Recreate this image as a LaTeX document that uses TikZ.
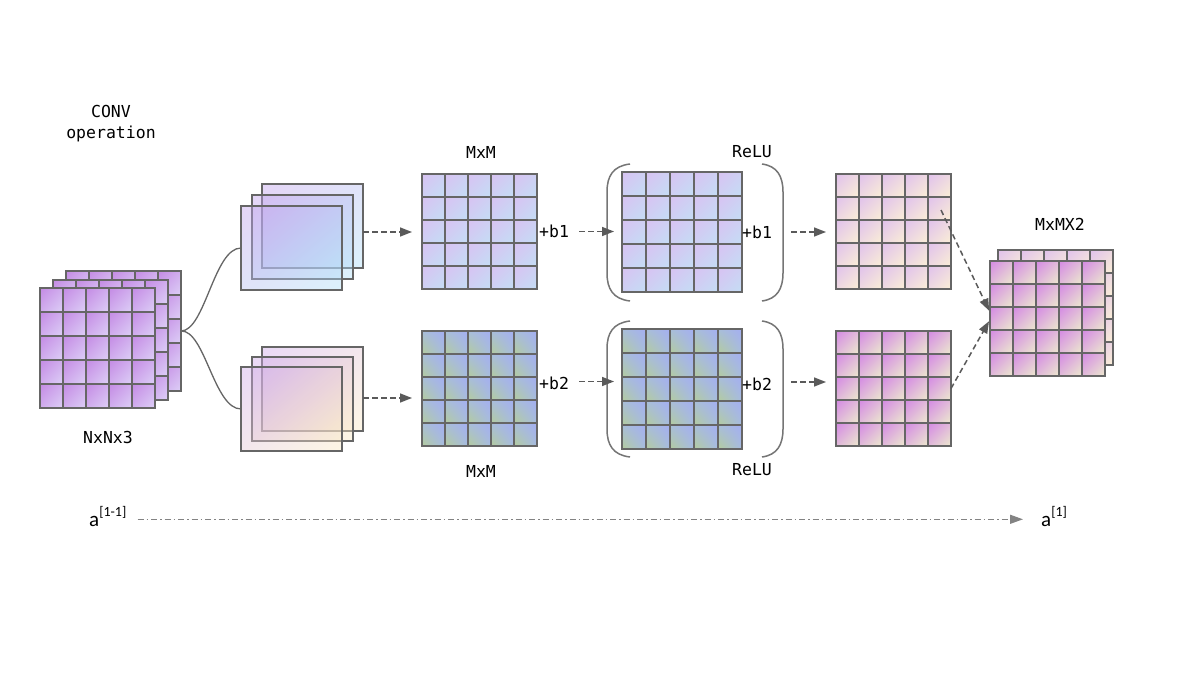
\documentclass[tikz,border=0pt]{standalone}
\usepackage{fontspec}
\setmainfont{DejaVu Sans Mono}
\newfontfamily\calib{Carlito}
\usetikzlibrary{arrows.meta,shadings}
\definecolor{gl}{HTML}{666666}
\definecolor{ar}{HTML}{5A5A5A}
\definecolor{inUL}{HTML}{C48AE4}
\definecolor{inLR}{HTML}{DDD0F7}
\definecolor{mUL}{HTML}{D8C2F2}
\definecolor{mLR}{HTML}{C4DEF5}
\definecolor{bUL}{HTML}{A8BEDA}
\definecolor{bUR}{HTML}{A4AEF2}
\definecolor{bLL}{HTML}{B4CC9C}
\definecolor{bLR}{HTML}{A6BCE2}
\definecolor{oaUL}{HTML}{E0C0EC}
\definecolor{oaLR}{HTML}{FBF0D6}
\definecolor{obUL}{HTML}{D488E4}
\definecolor{obLR}{HTML}{EDEBCE}
\definecolor{ftUL}{HTML}{C09CEC}
\definecolor{ftLR}{HTML}{ACE0F8}
\definecolor{fbUL}{HTML}{CCA4EA}
\definecolor{fbLR}{HTML}{FCEBC0}
\newcommand\cellgrid[8]{%
  \pgfmathsetmacro\cw{#3/5}\pgfmathsetmacro\ch{#4/5}%
  \foreach \i in {0,...,4}{\foreach \j in {0,...,4}{%
    \shade[upper left=#5,upper right=#6,lower left=#7,lower right=#8]
      ({#1+\i*\cw-0.2},{#2+\j*\ch-0.2}) rectangle ++({\cw+0.4},{\ch+0.4});}}%
  \foreach \k in {0,...,5}{%
    \draw[gridln] ({#1+\k*\cw},#2) -- ++(0,#4);
    \draw[gridln] (#1,{#2+\k*\ch}) -- ++(#3,0);}%
}
\newcommand\twograd[6]{% x y w h UL LR
  \cellgrid{#1}{#2}{#3}{#4}{#5}{#5!50!#6}{#5!50!#6}{#6}}
\newcommand\frmbox[6]{%
  \shade[upper left=#5,lower right=#6,upper right=#5!50!#6,lower left=#5!50!#6,fill opacity=0.42]
    (#1,#2) rectangle ++(#3,#4);
  \draw[frm] (#1,#2) rectangle ++(#3,#4);}
\tikzset{
  gridln/.style={draw=gl,line width=1.6pt,line cap=rect},
  frm/.style={draw=gl,line width=1.4pt},
  blk/.style={draw=none,inner sep=0pt,outer sep=0pt,anchor=north west},
  lbl/.style={font=\fontsize{16.5}{18}\selectfont,inner sep=0pt},
  dar/.style={draw=ar,line width=1.5pt,dash pattern=on 5.5pt off 3.5pt,-{Triangle[length=12pt,width=9pt]}},
  dda/.style={draw=ar!75,line width=1.3pt,dash pattern=on 6pt off 3pt on 1.5pt off 3pt,-{Triangle[length=13pt,width=9pt]}},
  curve/.style={draw=gl,line width=1.3pt},
  paren/.style={draw=gl!90,line width=1.5pt},
}
\begin{document}
\begin{tikzpicture}[x=1pt,y=-1pt]
\useasboundingbox[fill=white] (0,0) rectangle (1200,676);
% input stack
\twograd{66}{271}{115}{120}{inUL}{inLR}
\twograd{53}{280}{115}{120}{inUL}{inLR}
\twograd{40}{288}{115}{120}{inUL}{inLR}
\node[blk,minimum width=115pt,minimum height=120pt] (inb) at (66,271) {};
\node[blk,minimum width=115pt,minimum height=120pt] (inf) at (40,288) {};
% frame stacks
\frmbox{262}{184}{101}{84}{ftUL}{ftLR}
\frmbox{252}{195}{101}{84}{ftUL}{ftLR}
\frmbox{241}{206}{101}{84}{ftUL}{ftLR}
\node[blk,minimum width=101pt,minimum height=84pt] (fb1) at (262,184) {};
\node[blk,minimum width=101pt,minimum height=84pt] (ff1) at (241,206) {};
\frmbox{262}{347}{101}{84}{fbUL}{fbLR}
\frmbox{252}{357}{101}{84}{fbUL}{fbLR}
\frmbox{241}{367}{101}{84}{fbUL}{fbLR}
\node[blk,minimum width=101pt,minimum height=84pt] (fb2) at (262,347) {};
\node[blk,minimum width=101pt,minimum height=84pt] (ff2) at (241,367) {};
% MxM grids
\twograd{422}{174}{115}{115}{mUL}{mLR}
\node[blk,minimum width=115pt,minimum height=115pt] (m1) at (422,174) {};
\cellgrid{422}{331}{115}{115}{bUL}{bUR}{bLL}{bLR}
\node[blk,minimum width=115pt,minimum height=115pt] (m2) at (422,331) {};
% ReLU grids
\twograd{622}{172}{120}{120}{mUL}{mLR}
\node[blk,minimum width=120pt,minimum height=120pt] (r1) at (622,172) {};
\cellgrid{622}{329}{120}{120}{bUL}{bUR}{bLL}{bLR}
\node[blk,minimum width=120pt,minimum height=120pt] (r2) at (622,329) {};
% outputs
\twograd{836}{174}{115}{115}{oaUL}{oaLR}
\node[blk,minimum width=115pt,minimum height=115pt] (o1) at (836,174) {};
\twograd{836}{331}{115}{115}{obUL}{obLR}
\node[blk,minimum width=115pt,minimum height=115pt] (o2) at (836,331) {};
% final stack
\twograd{998}{250}{115}{115}{oaUL}{oaLR}
\twograd{990}{261}{115}{115}{obUL}{obLR}
\node[blk,minimum width=115pt,minimum height=115pt] (fa) at (990,261) {};
% parens
\draw[paren] (630,164) .. controls (613,166) and (607,176) .. (607,192) -- (607,273) .. controls (607,289) and (613,299) .. (630,301);
\draw[paren] (762,164) .. controls (777,166) and (783,176) .. (783,192) -- (783,273) .. controls (783,289) and (777,299) .. (762,301);
\draw[paren] (630,321) .. controls (613,323) and (607,333) .. (607,349) -- (607,429) .. controls (607,445) and (613,455) .. (630,457);
\draw[paren] (762,321) .. controls (777,323) and (783,333) .. (783,349) -- (783,429) .. controls (783,445) and (777,455) .. (762,457);
% labels
\node[lbl] (conv) at (111,111) {CONV};
\node[lbl] (oper) at (111,134) {operation};
\node[lbl] (nnn) at (108,437) {NxNx3};
\node[lbl] (lm1) at (481,152) {MxM};
\node[lbl] (lm2) at (481,471) {MxM};
\node[lbl] (lr1) at (752,152) {ReLU};
\node[lbl] (lr2) at (752,470) {ReLU};
\node[lbl] (lmx) at (1060,224) {MxMX2};
\node[lbl,anchor=west] (pb1) at ([xshift=2pt]m1.east) {+b1};
\node[lbl,anchor=west] (pb2) at ([xshift=2pt,yshift=5pt]m2.east) {+b2};
\node[lbl,anchor=west] (pr1) at ([xshift=0pt]r1.east) {+b1};
\node[lbl,anchor=west] (pr2) at ([xshift=0pt,yshift=5pt]r2.east) {+b2};
\node[inner sep=0pt,font=\calib\fontsize{21}{22}\selectfont,anchor=base west] (aL) at (89,526)
  {a\raisebox{0.45em}{\fontsize{14}{14}\selectfont[1-1]}};
\node[inner sep=0pt,font=\calib\fontsize{21}{22}\selectfont,anchor=base west] (aR) at (1041,526)
  {a\raisebox{0.45em}{\fontsize{14}{14}\selectfont[1]}};
% connectors
\draw[curve] (inb.east) .. controls (205,331) and (214,248) .. (ff1.west);
\draw[curve] (inb.east) .. controls (205,330) and (214,409) .. (ff2.west);
\draw[dar,shorten >=10pt] ([yshift=-6pt]fb1.east) coordinate (s1) -- (s1 -| m1.west);
\draw[dar,shorten >=10pt] ([yshift=-9pt]fb2.east) coordinate (s2) -- (s2 -| m2.west);
\draw[dar,shorten <=10pt,shorten >=8pt] (pb1.east) -- (pb1.east -| r1.west);
\draw[dar,shorten <=10pt,shorten >=8pt] ([yshift=2pt]pb2.east) coordinate (s3) -- (s3 -| r2.west);
\draw[dar,shorten <=19pt,shorten >=10pt] (pr1.east) -- (pr1.east -| o1.west);
\draw[dar,shorten <=19pt,shorten >=10pt] ([yshift=2pt]pr2.east) coordinate (s4) -- (s4 -| o2.west);
\draw[dar,shorten >=2pt] ([shift={(-10pt,-36pt)}]o1.north east) -- ([yshift=6pt]fa.west);
\draw[dar,shorten >=2pt] (o2.east) -- ([yshift=-1pt]fa.west);
\draw[dda,shorten <=11pt,shorten >=18pt] ([yshift=-3pt]aL.east) -- ([yshift=-3pt]aR.west);
\end{tikzpicture}
\end{document}
